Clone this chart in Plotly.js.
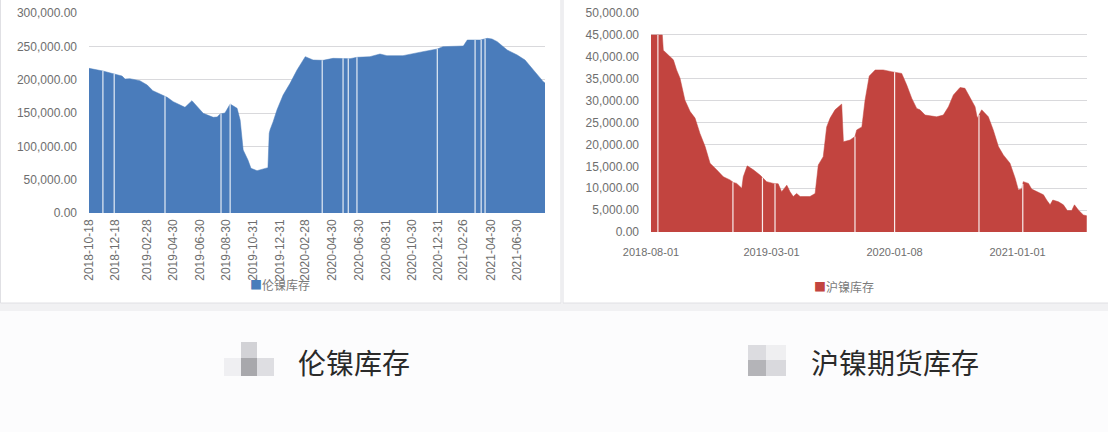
<!DOCTYPE html>
<html><head><meta charset="utf-8">
<script src="https://cdn.plot.ly/plotly-3.0.1.min.js"></script>
<style>html,body{margin:0;padding:0;background:#fcfcfd;}#chart{width:1108px;height:432px;}</style>
</head><body><div id="chart"></div>
<script>
// LME nickel inventory (tonnes)
const lmeDates = ['2018-10-18','2018-11-19','2018-12-15','2019-01-02','2019-01-09','2019-01-20','2019-02-12','2019-03-01','2019-03-14','2019-03-31','2019-04-16','2019-04-30','2019-05-16','2019-05-27','2019-06-12','2019-06-24','2019-07-08','2019-07-31','2019-08-09','2019-08-16','2019-08-27','2019-09-08','2019-09-24','2019-10-01','2019-10-08','2019-10-19','2019-10-26','2019-11-09','2019-12-02','2019-12-04','2019-12-07','2019-12-09','2019-12-16','2019-12-25','2020-01-08','2020-01-24','2020-02-09','2020-02-28','2020-03-17','2020-04-09','2020-05-02','2020-05-23','2020-06-10','2020-06-26','2020-07-26','2020-08-18','2020-09-03','2020-10-10','2020-11-02','2020-11-25','2020-12-28','2021-01-10','2021-02-26','2021-03-07','2021-04-06','2021-04-22','2021-05-03','2021-05-15','2021-06-07','2021-06-30','2021-07-18','2021-08-06','2021-08-29','2021-09-02'];
const lmeStock = [217000,213000,208500,205500,201000,201500,198500,192000,183500,178500,173500,167000,162000,158500,168500,159500,149500,143500,144000,148500,150000,163500,157000,139500,94500,79500,67000,63500,67000,68000,119500,125000,137000,155000,177000,194500,214500,234500,229500,229000,232000,232000,231500,233500,234500,238500,236000,236000,239500,242000,246000,249500,250500,259500,259500,262000,261000,257000,244500,237000,229500,214500,197000,195000];
const lmeGapDates = ['2018-11-19','2018-12-15','2019-04-11','2019-08-18','2019-09-08','2020-04-07','2020-05-25','2020-06-06','2020-06-26','2020-12-28','2021-03-25','2021-04-08','2021-04-17'];
const lmeTickDates = ['2018-10-18','2018-12-18','2019-02-28','2019-04-30','2019-06-30','2019-08-30','2019-10-31','2019-12-31','2020-02-28','2020-04-30','2020-06-30','2020-08-31','2020-10-30','2020-12-31','2021-02-26','2021-04-30','2021-06-30'];

// SHFE nickel futures inventory (tonnes), x = data point position on the category axis
const shfeIdx = [0,4.6,5.0,6.4,9.1,10.4,11.8,13.8,15.9,17.9,19.9,22.0,24.0,26.7,29.4,32.1,33.5,34.8,36.9,37.5,39.1,41.6,44.3,47.0,49.7,51.7,53.1,55.2,56.5,57.8,59.2,60.6,64.6,66.7,68.0,70.0,71.4,72.8,74.8,77.5,78.2,80.9,82.9,83.6,85.7,87.0,88.7,91.1,94.4,97.8,101.9,103.9,106.0,108.0,109.3,111.4,113.4,116.1,118.8,120.9,122.9,125.6,127.6,129.7,131.7,132.6,134.4,137.1,139.1,141.2,143.2,145.9,148.0,149.3,150.7,151.3,153.4,154.7,157.4,159.5,160.8,162.2,163.3,165.6,167.6,169.2,171.0,172.1,173.7,175.7,177.1];
const shfeStock = [45000,45000,41500,40800,39300,37000,35100,30100,27500,26000,22500,19500,15700,14200,12600,11900,11300,11100,10000,12600,15100,14200,13000,11500,11100,11000,9200,10700,9200,8100,8800,8100,8100,8800,15300,17200,24000,26000,27900,29200,20600,21000,21800,23300,24000,30100,35600,37000,37000,36600,36200,33600,30500,28200,27900,26700,26500,26300,26700,28600,31300,33000,32800,30500,28600,26000,27900,26300,23300,19500,17600,15700,12300,9600,9900,11500,11100,9800,9000,8500,7300,6200,7300,6900,6200,4900,4900,6200,5000,3900,3700];
const shfeGapIdx = [2.8,33.3,45.3,50.4,82.9,99.0,133.3,151.1];
const shfeTickIdx = [0,49,99,149];
const shfeTickText = ['2018-08-01','2019-03-01','2020-01-08','2021-01-01'];

const leftLegend = '伦镍库存';
const rightLegend = '沪镍库存';
const leftCaption = '伦镍库存';
const rightCaption = '沪镍期货库存';

const BLUE = '#4a7cbb', RED = '#c2443f';
const W = 1108, H = 432;
const px = v => v / W, py = v => 1 - v / H;

function interp(xs, ys, x) {
  if (x <= xs[0]) return ys[0];
  for (let i = 1; i < xs.length; i++) {
    if (x <= xs[i]) { const t = (x - xs[i-1]) / (xs[i] - xs[i-1]); return ys[i-1] + t * (ys[i] - ys[i-1]); }
  }
  return ys[ys.length - 1];
}
function gapLines(gx, xsNum, ys, toNum) {
  const x = [], y = [];
  gx.forEach(g => { x.push(g, g, null); y.push(0, interp(xsNum, ys, toNum(g)), null); });
  return {x, y};
}
const lmeNum = lmeDates.map(d => Date.parse(d));
const lg = gapLines(lmeGapDates, lmeNum, lmeStock, d => Date.parse(d));
const rg = gapLines(shfeGapIdx, shfeIdx, shfeStock, d => d);

const traces = [
  {x: lmeDates, y: lmeStock, type: 'scatter', mode: 'lines', fill: 'tozeroy', fillcolor: BLUE, line: {color: BLUE, width: 0.5}, xaxis: 'x', yaxis: 'y', showlegend: false, hoverinfo: 'x+y'},
  {x: lg.x, y: lg.y, type: 'scatter', mode: 'lines', line: {color: 'rgba(255,255,255,0.85)', width: 1.2}, xaxis: 'x', yaxis: 'y', showlegend: false, hoverinfo: 'skip'},
  {x: shfeIdx, y: shfeStock, type: 'scatter', mode: 'lines', fill: 'tozeroy', fillcolor: RED, line: {color: RED, width: 0.5}, xaxis: 'x2', yaxis: 'y2', showlegend: false, hoverinfo: 'y'},
  {x: rg.x, y: rg.y, type: 'scatter', mode: 'lines', line: {color: 'rgba(255,255,255,0.9)', width: 1.2}, xaxis: 'x2', yaxis: 'y2', showlegend: false, hoverinfo: 'skip'}
];

const tickFont = {family: 'Liberation Sans, Arial, sans-serif', size: 12, color: '#6e6e6e'};
const cjk = 'Noto Sans CJK SC, sans-serif';

function rect(x0, x1, y0, y1, fill, line) {
  return {type: 'rect', xref: 'paper', yref: 'paper', layer: 'below', x0: px(x0), x1: px(x1), y0: py(y1), y1: py(y0), fillcolor: fill, line: line || {width: 0}};
}

const layout = {
  width: W, height: H, autosize: false,
  margin: {l: 0, r: 0, t: 0, b: 0, pad: 0},
  paper_bgcolor: '#fcfcfd', plot_bgcolor: 'rgba(0,0,0,0)',
  showlegend: false,
  xaxis: {type: 'date', domain: [px(89), px(545)], range: ['2018-10-18', '2021-09-02'], anchor: 'y',
    tickvals: lmeTickDates, tickformat: '%Y-%m-%d', tickangle: -90, tickfont: tickFont,
    showgrid: false, zeroline: false, showline: false, ticks: '', ticklabelstandoff: 3},
  yaxis: {domain: [py(213), py(12)], range: [0, 301500], tickvals: [0, 50000, 100000, 150000, 200000, 250000, 300000], tickformat: ',.2f', anchor: 'x',
    tickfont: tickFont, gridcolor: '#d9d9dc', gridwidth: 1, zeroline: false, showline: false, ticks: '', ticklabelstandoff: 11},
  xaxis2: {type: 'linear', domain: [px(651), px(1087)], range: [0, 177.2], anchor: 'y2',
    tickvals: shfeTickIdx, ticktext: shfeTickText, tickangle: 0, tickfont: {...tickFont, size: 11},
    showgrid: false, zeroline: false, showline: false, ticks: '', ticklabelstandoff: 12},
  yaxis2: {domain: [py(232), py(12)], range: [0, 50228], dtick: 5000, tickformat: ',.2f', anchor: 'x2',
    tickfont: tickFont, gridcolor: '#d9d9dc', gridwidth: 1, zeroline: false, showline: false, ticks: '', ticklabelstandoff: 11},
  shapes: [
    rect(0, 1108, 303, 311, '#f1f1f3'),
    rect(0.5, 561, -5, 303, '#ffffff', {color: '#e0e0e4', width: 1}),
    rect(563, 1115, -5, 303, '#ffffff', {color: '#e0e0e4', width: 1}),
    // blurred icons next to captions
    rect(241, 257, 342, 358, '#d2d2d6'),
    rect(241, 257, 358, 376, '#a8a8ac'),
    rect(257, 274, 358, 376, '#dedee2'),
    rect(224, 241, 358, 376, '#efeff2'),
    rect(748, 766, 345, 360, '#dcdce0'),
    rect(766, 786, 345, 360, '#efeff1'),
    rect(748, 766, 360, 376, '#b4b4b8'),
    rect(766, 786, 360, 376, '#d9d9dd')
  ],
  annotations: [
    {xref: 'paper', yref: 'paper', x: px(248), y: py(284), xanchor: 'left', yanchor: 'middle', showarrow: false,
      text: '<span style="color:' + BLUE + '">■</span>' + leftLegend, font: {family: cjk, size: 12, color: '#7a7a7a'}},
    {xref: 'paper', yref: 'paper', x: px(812), y: py(286), xanchor: 'left', yanchor: 'middle', showarrow: false,
      text: '<span style="color:' + RED + '">■</span>' + rightLegend, font: {family: cjk, size: 12, color: '#7a7a7a'}},
    {xref: 'paper', yref: 'paper', x: px(296), y: py(362), xanchor: 'left', yanchor: 'middle', showarrow: false,
      text: leftCaption, font: {family: cjk, size: 28, color: '#2a2a2a'}},
    {xref: 'paper', yref: 'paper', x: px(809), y: py(362), xanchor: 'left', yanchor: 'middle', showarrow: false,
      text: rightCaption, font: {family: cjk, size: 28, color: '#2a2a2a'}}
  ]
};
Plotly.newPlot('chart', traces, layout, {displayModeBar: false, staticPlot: true});
</script></body></html>
